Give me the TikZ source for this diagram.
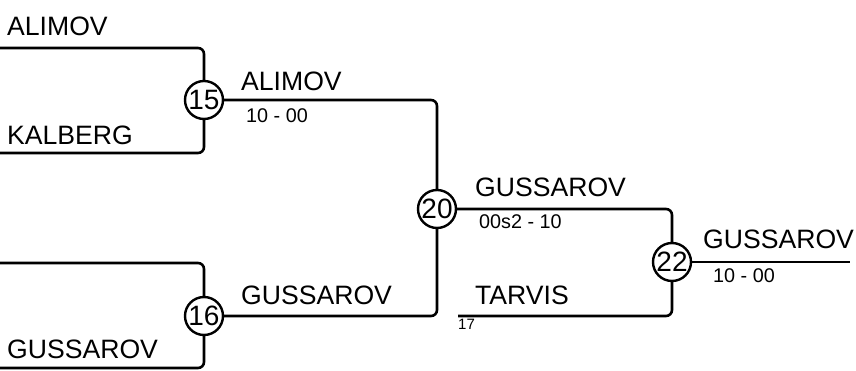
\documentclass[tikz,border=0pt]{standalone}
\usepackage{fontspec}
\setmainfont{Liberation Sans}
\begin{document}
\begin{tikzpicture}[x=1pt,y=1pt,
  wire/.style={line width=2.6pt, rounded corners=6pt},
  match/.style={circle, draw, line width=2.4pt, inner sep=0pt, minimum size=38pt, fill=white, font=\fontsize{28}{28}\selectfont},
  plabel/.style={anchor=base west, inner sep=0pt, font=\fontsize{26.6}{26.6}\selectfont},
  score/.style={anchor=base west, inner sep=0pt, font=\fontsize{19.8}{19.8}\selectfont},
  seed/.style={anchor=base west, inner sep=0pt, font=\fontsize{15}{15}\selectfont}]
\useasboundingbox (0,0) rectangle (856,371);
% match nodes
\node[match] (m15) at (204,271) {15};
\node[match] (m16) at (204,55) {16};
\node[match] (m20) at (437,162) {20};
\node[match] (m22) at (672,109) {22};
% free ends
\coordinate (p1) at (0,323);
\coordinate (p2) at (0,218);
\coordinate (p3) at (0,108);
\coordinate (p4) at (0,3);
\coordinate (p17) at (458,55);
\coordinate (fin) at (850,109);
% connectors
\draw[wire] (p1) -| (m15);
\draw[wire] (p2) -| (m15);
\draw[wire] (p3) -| (m16);
\draw[wire] (p4) -| (m16);
\draw[wire] (m15) -| (m20);
\draw[wire] (m16) -| (m20);
\draw[wire] (m20) -| (m22);
\draw[wire] (p17) -| (m22);
\draw[wire] (m22) -- (fin);
% labels
\node[plabel] (l1) at (7,335) {ALIMOV};
\node[plabel] (l2) at (7,226) {KALBERG};
\node[plabel] (l4) at (7,12) {GUSSAROV};
\node[plabel] (w15) at (241,280) {ALIMOV};
\node[score] (s15) at (246,248) {10 - 00};
\node[plabel] (w16) at (241,66) {GUSSAROV};
\node[plabel] (w20) at (475,174) {GUSSAROV};
\node[score] (s20) at (479,142) {00s2 - 10};
\node[plabel] (l17) at (475,66) {TARVIS};
\node[seed] (n17) at (458,41) {17};
\node[plabel] (w22) at (703,122) {GUSSAROV};
\node[score] (s22) at (713,88) {10 - 00};
\end{tikzpicture}
\end{document}
